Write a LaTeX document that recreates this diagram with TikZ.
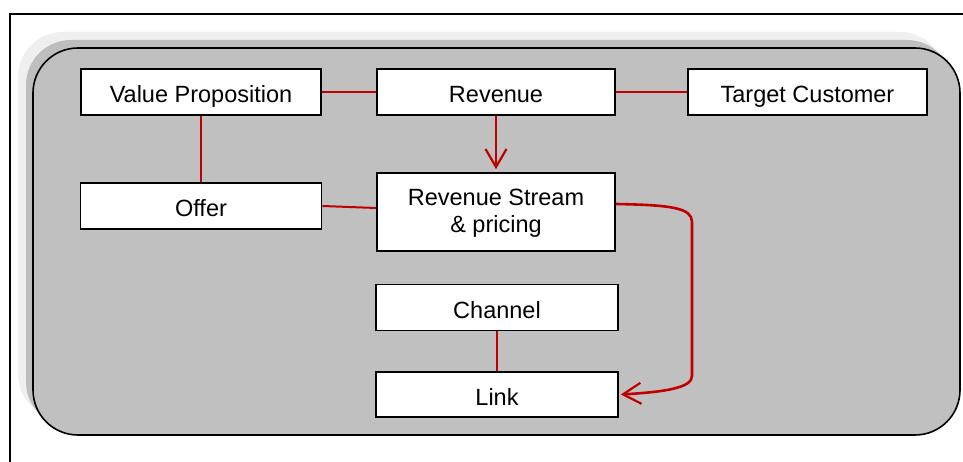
\documentclass[tikz,border=0pt]{standalone}
\usepackage{fontspec}
\setmainfont{Liberation Sans}
\usetikzlibrary{arrows.meta}
\definecolor{linkred}{HTML}{C00000}
\definecolor{panelgrey}{HTML}{C0C0C0}
\definecolor{shadelight}{HTML}{EFEFEF}
\definecolor{shadedark}{HTML}{BEBEBE}
\tikzset{
  box/.style={draw=black, line width=1.6pt, fill=white, rectangle,
    inner sep=0pt, align=center, text height=21pt, text depth=0pt,
    font=\fontsize{23.5}{27}\selectfont},
  link/.style={draw=linkred, line width=2pt},
  flow/.style={draw=linkred, line width=2.6pt},
  barb/.style={-{Straight Barb[length=18pt,width=21pt,line width=2.2pt]}},
}
\begin{document}
\begin{tikzpicture}[x=1pt,y=-1pt]
\useasboundingbox (0,0) rectangle (963,462);
\fill[white] (0,0) rectangle (963,462);
% frame around the whole figure
\draw[line width=1.4pt] (970,14) -- (10,14) -- (10,470);
% panel with its soft shadow
\fill[shadelight, rounded corners=45pt] (18,32) rectangle (945,419);
\fill[shadedark, rounded corners=45pt] (26,40) rectangle (952,427);
\draw[line width=1.6pt, fill=panelgrey, rounded corners=45pt] (33,48) rectangle (960,435);
% nodes
\node[box, minimum width=240pt, minimum height=46pt] (vp)    at (201,92)  {Value Proposition};
\node[box, minimum width=238pt, minimum height=46pt] (rev)   at (496,92)  {Revenue};
\node[box, minimum width=239pt, minimum height=46pt] (tc)    at (807.5,92)  {Target Customer};
\node[box, minimum width=241pt, minimum height=46pt] (offer) at (201,206) {Offer};
\node[box, minimum width=238pt, minimum height=78pt, text height=44pt, text depth=2pt] (rs) at (496,212) {Revenue Stream\\ \& pricing};
\node[box, minimum width=242pt, minimum height=46pt] (ch)    at (497,307.5) {Channel};
\node[box, minimum width=242pt, minimum height=45pt] (lk)    at (497,394.5) {Link};
% connectors
\draw[link] (vp.east) -- (rev.west);
\draw[link] (rev.east) -- (tc.west);
\draw[link] (vp.south) -- (offer.north);
\draw[link] (offer.east) -- ([yshift=4pt]rs.west);
\draw[link] (ch.south) -- (lk.north);
\draw[link, barb] (rev.south) -- ([yshift=3pt]rs.north);
\coordinate (bendtop) at (692,222);
\coordinate (bendbot) at (692,376);
\draw[flow, barb] ([yshift=8pt]rs.east)
  .. controls (672,205) and (692,208) .. (bendtop)
  -- (bendbot)
  .. controls (692,388) and (664,392) .. ([xshift=2pt]lk.east);
\end{tikzpicture}
\end{document}
